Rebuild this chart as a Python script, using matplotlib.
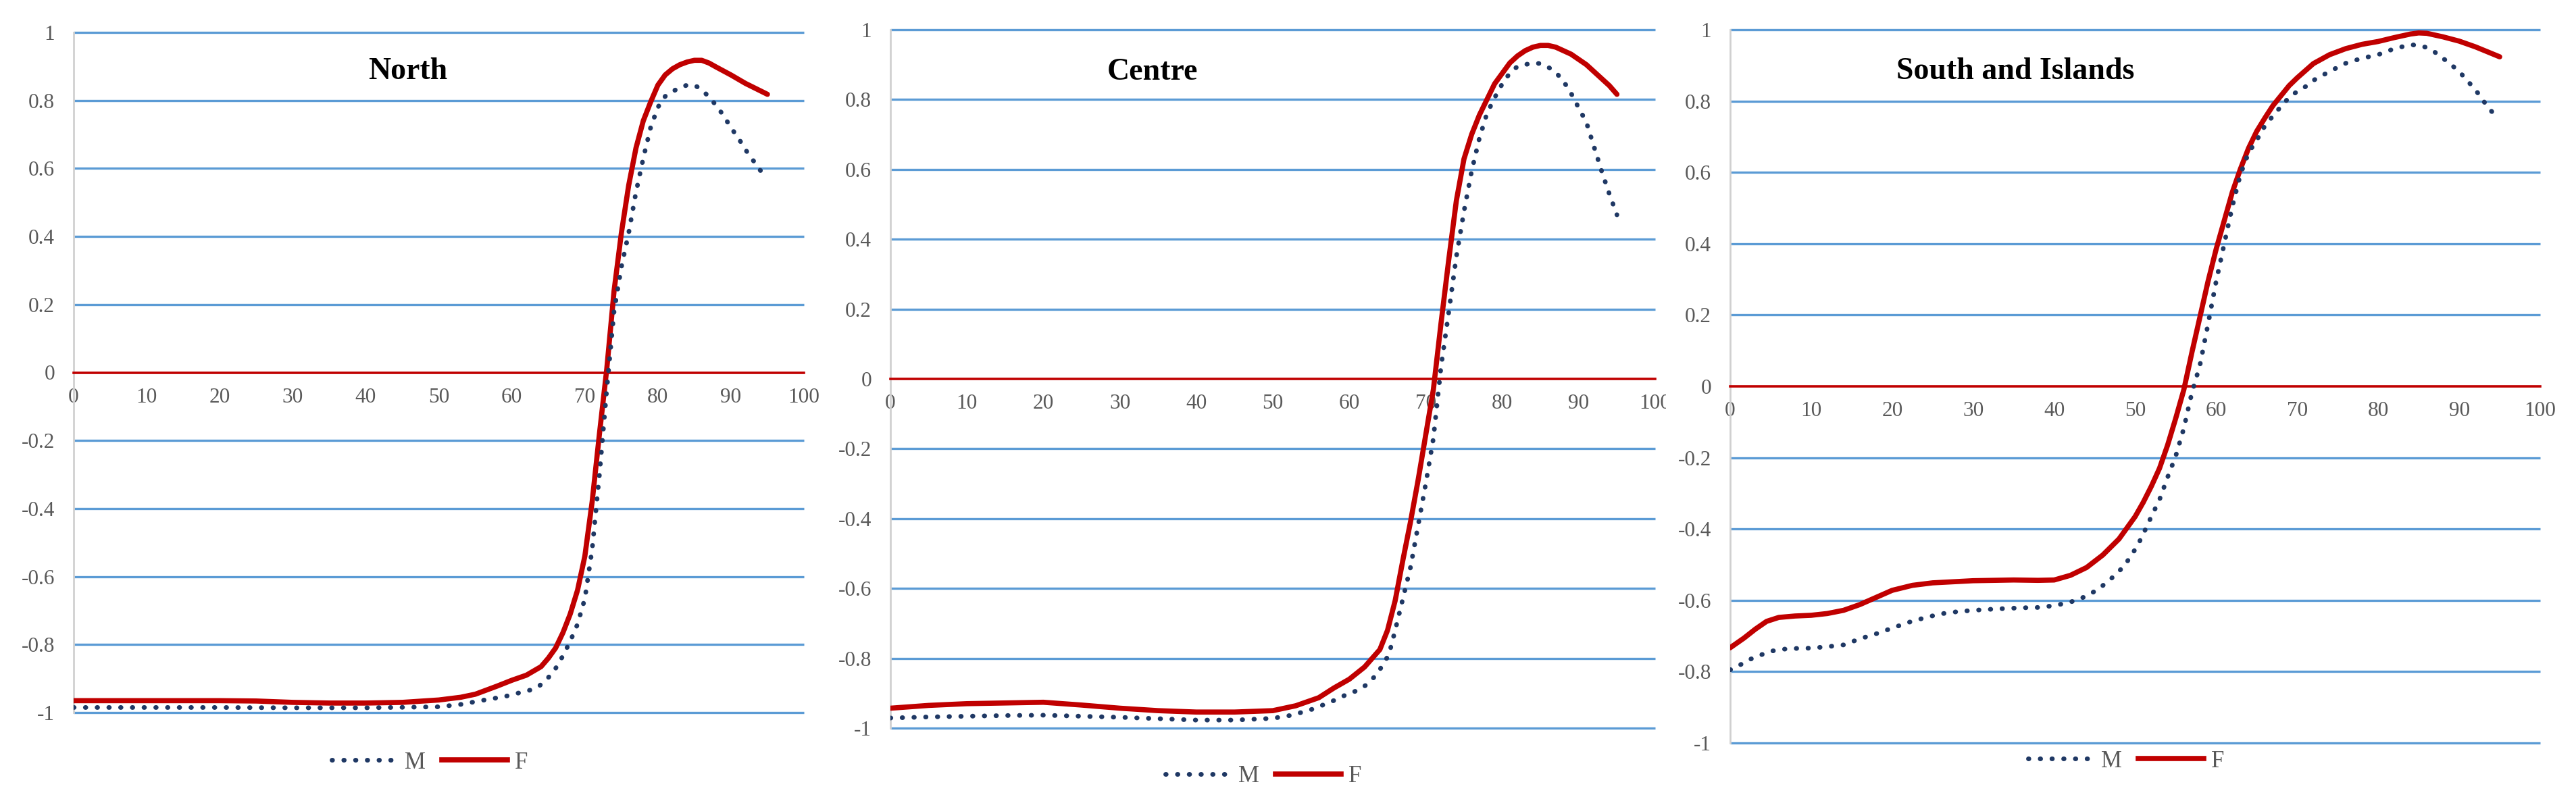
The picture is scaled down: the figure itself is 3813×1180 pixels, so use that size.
import matplotlib
matplotlib.use("Agg")
import matplotlib.pyplot as plt
from matplotlib.lines import Line2D
from matplotlib.transforms import Bbox, TransformedBbox

plt.rcParams['font.family'] = ['Liberation Serif', 'DejaVu Serif']

# ---------------- data ----------------
panel_titles = ["North", "Centre", "South and Islands"]
series_labels = ["M", "F"]
x_ticks = [0, 10, 20, 30, 40, 50, 60, 70, 80, 90, 100]
y_ticks = [1, 0.8, 0.6, 0.4, 0.2, 0, -0.2, -0.4, -0.6, -0.8, -1]
y_tick_labels = ["1", "0.8", "0.6", "0.4", "0.2", "0", "-0.2", "-0.4", "-0.6", "-0.8", "-1"]

# North
north_m_age = [0, 10, 20, 30, 40, 50, 53, 56, 59, 61, 62.5, 63.7, 65, 66, 67, 68, 69, 70, 71, 72, 73,
               74, 75, 76, 77, 78, 79, 80, 81, 82, 83, 84, 85, 86, 87, 88, 89, 90, 91, 92, 93, 94, 95]
north_m = [-0.985, -0.985, -0.985, -0.986, -0.986, -0.983, -0.976, -0.964, -0.953, -0.942, -0.934, -0.923,
           -0.897, -0.870, -0.833, -0.790, -0.740, -0.665, -0.520, -0.300, -0.050,
           0.180, 0.310, 0.410, 0.530, 0.630, 0.720, 0.780, 0.812, 0.826, 0.838, 0.845, 0.845, 0.832,
           0.810, 0.785, 0.755, 0.720, 0.690, 0.655, 0.625, 0.595, 0.570]
north_f_age = [0, 5, 10, 15, 20, 25, 30, 35, 40, 45, 50, 53, 55, 58, 60, 62, 64, 65, 66, 67, 68, 69, 70,
               71, 72, 73, 74, 75, 76, 77, 78, 79, 80, 81, 82, 83, 84, 85, 86, 87, 88, 90, 92, 95]
north_f = [-0.965, -0.965, -0.965, -0.965, -0.965, -0.966, -0.970, -0.972, -0.972, -0.970, -0.963,
           -0.955, -0.946, -0.922, -0.905, -0.890, -0.865, -0.840, -0.810, -0.765, -0.710, -0.640,
           -0.540, -0.380, -0.180, 0.010, 0.240, 0.410, 0.550, 0.660, 0.740, 0.795, 0.845, 0.875,
           0.893, 0.905, 0.913, 0.918, 0.918, 0.910, 0.898, 0.875, 0.850, 0.818]

# Centre
centre_m_age = [0, 5, 10, 15, 20, 25, 30, 35, 40, 45, 50, 52.5, 55.3, 58.1, 60, 61, 62.4, 63.5, 64.4, 65.2,
                66, 67, 68, 69, 70, 71, 72, 73, 74, 75, 76, 77, 78, 79, 80, 81, 82, 83, 84, 85, 86,
                87, 88, 89, 90, 91, 92, 93, 94, 95]
centre_m = [-0.971, -0.968, -0.966, -0.964, -0.963, -0.966, -0.969, -0.973, -0.977, -0.977, -0.972,
            -0.963, -0.945, -0.920, -0.900, -0.893, -0.874, -0.848, -0.819, -0.788,
            -0.720, -0.630, -0.540, -0.420, -0.300, -0.170, 0.035, 0.190, 0.350, 0.480, 0.595, 0.688,
            0.760, 0.805, 0.845, 0.876, 0.895, 0.900, 0.905, 0.903, 0.893, 0.878, 0.853, 0.818,
            0.776, 0.735, 0.665, 0.595, 0.530, 0.470]
centre_f_age = [0, 5, 10, 15, 20, 25, 30, 35, 40, 45, 50, 53, 56, 58, 60, 62, 63, 64, 65, 66, 67, 68, 69,
                70, 71, 72, 73, 74, 75, 76, 77, 78, 79, 80, 81, 82, 83, 84, 85, 86, 87, 88, 89, 90,
                91, 92, 93, 94, 95]
centre_f = [-0.943, -0.935, -0.930, -0.928, -0.926, -0.934, -0.943, -0.950, -0.954, -0.954, -0.950,
            -0.936, -0.913, -0.885, -0.860, -0.825, -0.800, -0.775, -0.720, -0.635, -0.520, -0.410,
            -0.290, -0.160, -0.030, 0.160, 0.340, 0.510, 0.630, 0.700, 0.755, 0.800, 0.845, 0.875,
            0.905, 0.925, 0.940, 0.950, 0.955, 0.955, 0.950, 0.940, 0.930, 0.915, 0.900, 0.880,
            0.860, 0.840, 0.815]

# South and Islands
south_m_age = [0, 1.4, 2.4, 3.8, 5.2, 6.6, 8, 10, 12, 14, 16, 18, 20, 22, 24, 26, 28, 30, 33, 36, 38, 40,
               42, 43, 44, 45.5, 47, 48.6, 49.5, 50.3, 51, 52, 53, 54, 55, 56, 57, 58, 59, 60, 61, 62,
               63, 64, 65, 66, 67, 68, 69, 70, 71, 72, 74, 76, 78, 80, 82, 84, 85, 86, 87, 88, 89,
               90, 91, 92, 93, 94, 95]
south_m = [-0.795, -0.779, -0.766, -0.753, -0.742, -0.737, -0.735, -0.734, -0.730, -0.725, -0.708,
           -0.694, -0.678, -0.662, -0.649, -0.638, -0.632, -0.628, -0.624, -0.621, -0.620, -0.615,
           -0.605, -0.597, -0.588, -0.568, -0.540, -0.505, -0.475, -0.446, -0.414, -0.365, -0.318,
           -0.255, -0.196, -0.118, -0.018, 0.060, 0.175, 0.295, 0.400, 0.505, 0.595, 0.655, 0.690,
           0.730, 0.758, 0.785, 0.810, 0.827, 0.840, 0.858, 0.883, 0.906, 0.920, 0.930, 0.947,
           0.958, 0.956, 0.950, 0.937, 0.920, 0.902, 0.883, 0.857, 0.832, 0.800, 0.771, 0.750]
south_f_age = [0, 1.7, 3.1, 4.5, 6, 8, 10, 12, 14, 16, 18, 20, 22.5, 25, 30, 35, 38, 40, 42, 44, 46, 48,
               50, 51, 52, 53, 54, 55, 56, 57, 58, 59, 60, 61, 62, 63, 64, 65, 66, 67, 68, 69, 70, 72,
               74, 76, 78, 80, 82, 84, 85, 86, 87, 88, 90, 92, 95]
south_f = [-0.733, -0.706, -0.681, -0.659, -0.648, -0.644, -0.642, -0.637, -0.628, -0.612, -0.592,
           -0.572, -0.558, -0.551, -0.545, -0.543, -0.544, -0.543, -0.530, -0.508, -0.473, -0.428,
           -0.365, -0.325, -0.280, -0.230, -0.165, -0.090, -0.010, 0.095, 0.195, 0.295, 0.385,
           0.465, 0.545, 0.610, 0.668, 0.715, 0.752, 0.787, 0.815, 0.843, 0.865, 0.905, 0.930,
           0.947, 0.959, 0.967, 0.978, 0.988, 0.991, 0.990, 0.985, 0.980, 0.968, 0.952, 0.924]

panels = [
    (north_m_age, north_m, north_f_age, north_f),
    (centre_m_age, centre_m, centre_f_age, centre_f),
    (south_m_age, south_m, south_f_age, south_f),
]

# ---------------- layout / style ----------------
W, H = 3813, 1180
axes_px = [(109, 48, 1190, 1055), (1318, 44, 2450, 1078), (2561, 44, 3760, 1100)]
title_pos = [(45.8, 0.863), (34.3, 0.856), (35.2, 0.862)]
legend_px = [(636, 1129), (1870, 1150), (3147, 1127)]

M_COLOR = '#1F3864'
F_COLOR = '#C00000'
GRID_COLOR = '#5B9BD5'
TICK_COLOR = '#595959'
M_LS = (0, (0.1, 2.4))

fig = plt.figure(figsize=(W / 100, H / 100), dpi=100)
fig.patch.set_facecolor('white')

for i, (mx, my, fx, fy) in enumerate(panels):
    l, t, r, b = axes_px[i]
    ax = fig.add_axes([l / W, 1 - b / H, (r - l) / W, (b - t) / H])
    ax.set_xlim(0, 100)
    ax.set_ylim(-1, 1)
    ax.set_facecolor('white')

    grid_vals = [v for v in y_ticks if v != 0]
    ax.hlines(grid_vals, 0, 100, color=GRID_COLOR, lw=2.4, clip_on=False, zorder=1)

    for s in ['top', 'right']:
        ax.spines[s].set_visible(False)
    ax.spines['bottom'].set_position(('data', 0))
    ax.spines['bottom'].set_color(F_COLOR)
    ax.spines['bottom'].set_linewidth(2.6)
    ax.spines['left'].set_color('#D0D0D0')
    ax.spines['left'].set_linewidth(2.0)

    ax.set_xticks(x_ticks)
    ax.set_xticklabels([str(v) for v in x_ticks])
    ax.set_yticks(y_ticks)
    ax.set_yticklabels(y_tick_labels)
    ax.tick_params(axis='x', length=0, pad=16, labelsize=22.5, labelcolor=TICK_COLOR)
    ax.tick_params(axis='y', length=0, pad=20, labelsize=22.5, labelcolor=TICK_COLOR)

    ax.plot(fx, fy, color=F_COLOR, lw=5.5, solid_capstyle='round', zorder=4)
    ax.plot(mx, my, color=M_COLOR, lw=5, linestyle=M_LS, dash_capstyle='round', zorder=5)

    tx, ty = title_pos[i]
    ax.text(tx, ty, panel_titles[i], ha='center', va='baseline', fontsize=33,
            fontweight='bold', color='black', zorder=6)

    if i == 1:
        clip = TransformedBbox(Bbox([[0, 0], [2466 / W, 1]]), fig.transFigure)
        for lbl in ax.get_xticklabels():
            if lbl.get_text() == '100':
                lbl.set_clip_box(clip)
                lbl.set_clip_on(True)

    h_m = Line2D([], [], color=M_COLOR, lw=5, linestyle=M_LS, dash_capstyle='round')
    h_f = Line2D([], [], color=F_COLOR, lw=5.5)
    cx, cy = legend_px[i]
    fig.legend([h_m, h_f], series_labels, loc='center', bbox_to_anchor=(cx / W, 1 - cy / H),
               ncol=2, frameon=False, handlelength=2.8, handletextpad=0.3, columnspacing=0.7,
               prop={'size': 25}, labelcolor=TICK_COLOR)

fig.savefig('out.png', dpi=100, facecolor='white')
